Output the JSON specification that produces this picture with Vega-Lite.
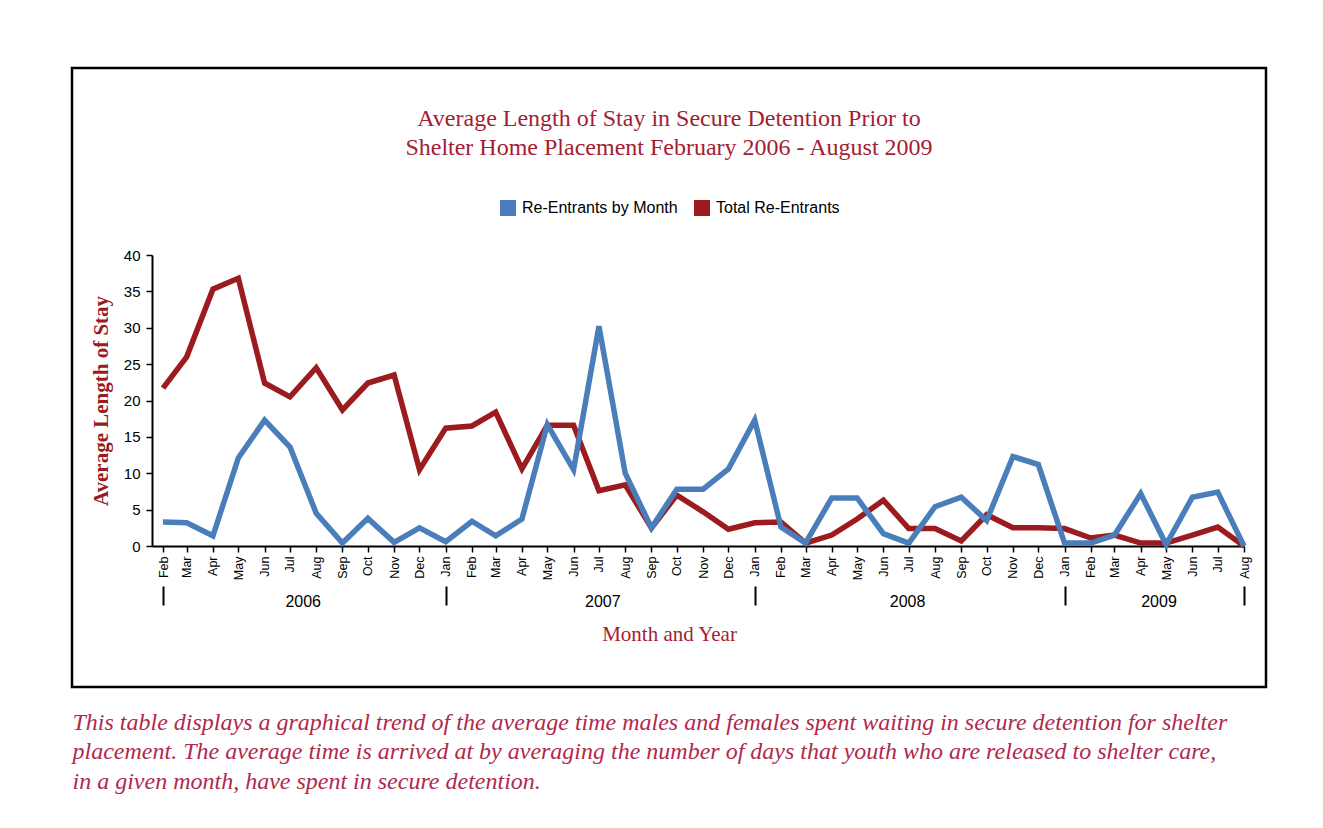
{
  "$schema": "https://vega.github.io/schema/vega-lite/v6.json",
  "autosize": {"type": "none"},
  "width": 1194,
  "height": 619,
  "padding": {"left": 72, "top": 68, "right": 57, "bottom": 141},
  "background": "white",
  "title": {
    "text": ["Average Length of Stay in Secure Detention Prior to", "Shelter Home Placement February 2006 - August 2009"],
    "font": "Liberation Serif",
    "fontSize": 24,
    "fontWeight": "normal",
    "color": "#A31D33",
    "anchor": "middle",
    "frame": "group",
    "orient": "top",
    "offset": -92,
    "lineHeight": 29
  },
  "data": {
    "format": {"parse": {"date": "date:'%Y-%m'"}},
    "values": [
      {"date": "2006-02", "series": "Total Re-Entrants", "value": 21.7},
      {"date": "2006-03", "series": "Total Re-Entrants", "value": 26.0},
      {"date": "2006-04", "series": "Total Re-Entrants", "value": 35.3},
      {"date": "2006-05", "series": "Total Re-Entrants", "value": 36.8},
      {"date": "2006-06", "series": "Total Re-Entrants", "value": 22.4},
      {"date": "2006-07", "series": "Total Re-Entrants", "value": 20.5},
      {"date": "2006-08", "series": "Total Re-Entrants", "value": 24.5},
      {"date": "2006-09", "series": "Total Re-Entrants", "value": 18.7},
      {"date": "2006-10", "series": "Total Re-Entrants", "value": 22.4},
      {"date": "2006-11", "series": "Total Re-Entrants", "value": 23.5},
      {"date": "2006-12", "series": "Total Re-Entrants", "value": 10.5},
      {"date": "2007-01", "series": "Total Re-Entrants", "value": 16.2},
      {"date": "2007-02", "series": "Total Re-Entrants", "value": 16.5},
      {"date": "2007-03", "series": "Total Re-Entrants", "value": 18.4},
      {"date": "2007-04", "series": "Total Re-Entrants", "value": 10.6},
      {"date": "2007-05", "series": "Total Re-Entrants", "value": 16.6},
      {"date": "2007-06", "series": "Total Re-Entrants", "value": 16.6},
      {"date": "2007-07", "series": "Total Re-Entrants", "value": 7.6},
      {"date": "2007-08", "series": "Total Re-Entrants", "value": 8.4},
      {"date": "2007-09", "series": "Total Re-Entrants", "value": 2.5},
      {"date": "2007-10", "series": "Total Re-Entrants", "value": 7.0},
      {"date": "2007-11", "series": "Total Re-Entrants", "value": 4.7},
      {"date": "2007-12", "series": "Total Re-Entrants", "value": 2.3},
      {"date": "2008-01", "series": "Total Re-Entrants", "value": 3.2},
      {"date": "2008-02", "series": "Total Re-Entrants", "value": 3.3},
      {"date": "2008-03", "series": "Total Re-Entrants", "value": 0.4},
      {"date": "2008-04", "series": "Total Re-Entrants", "value": 1.5},
      {"date": "2008-05", "series": "Total Re-Entrants", "value": 3.7},
      {"date": "2008-06", "series": "Total Re-Entrants", "value": 6.3},
      {"date": "2008-07", "series": "Total Re-Entrants", "value": 2.4},
      {"date": "2008-08", "series": "Total Re-Entrants", "value": 2.4},
      {"date": "2008-09", "series": "Total Re-Entrants", "value": 0.7},
      {"date": "2008-10", "series": "Total Re-Entrants", "value": 4.3},
      {"date": "2008-11", "series": "Total Re-Entrants", "value": 2.5},
      {"date": "2008-12", "series": "Total Re-Entrants", "value": 2.5},
      {"date": "2009-01", "series": "Total Re-Entrants", "value": 2.4},
      {"date": "2009-02", "series": "Total Re-Entrants", "value": 1.1},
      {"date": "2009-03", "series": "Total Re-Entrants", "value": 1.5},
      {"date": "2009-04", "series": "Total Re-Entrants", "value": 0.4},
      {"date": "2009-05", "series": "Total Re-Entrants", "value": 0.4},
      {"date": "2009-06", "series": "Total Re-Entrants", "value": 1.5},
      {"date": "2009-07", "series": "Total Re-Entrants", "value": 2.6},
      {"date": "2009-08", "series": "Total Re-Entrants", "value": 0.0},
      {"date": "2006-02", "series": "Re-Entrants by Month", "value": 3.3},
      {"date": "2006-03", "series": "Re-Entrants by Month", "value": 3.2},
      {"date": "2006-04", "series": "Re-Entrants by Month", "value": 1.4},
      {"date": "2006-05", "series": "Re-Entrants by Month", "value": 12.1},
      {"date": "2006-06", "series": "Re-Entrants by Month", "value": 17.3},
      {"date": "2006-07", "series": "Re-Entrants by Month", "value": 13.6},
      {"date": "2006-08", "series": "Re-Entrants by Month", "value": 4.5},
      {"date": "2006-09", "series": "Re-Entrants by Month", "value": 0.4},
      {"date": "2006-10", "series": "Re-Entrants by Month", "value": 3.8},
      {"date": "2006-11", "series": "Re-Entrants by Month", "value": 0.5},
      {"date": "2006-12", "series": "Re-Entrants by Month", "value": 2.5},
      {"date": "2007-01", "series": "Re-Entrants by Month", "value": 0.6},
      {"date": "2007-02", "series": "Re-Entrants by Month", "value": 3.4},
      {"date": "2007-03", "series": "Re-Entrants by Month", "value": 1.4},
      {"date": "2007-04", "series": "Re-Entrants by Month", "value": 3.7},
      {"date": "2007-05", "series": "Re-Entrants by Month", "value": 16.7},
      {"date": "2007-06", "series": "Re-Entrants by Month", "value": 10.5},
      {"date": "2007-07", "series": "Re-Entrants by Month", "value": 30.2},
      {"date": "2007-08", "series": "Re-Entrants by Month", "value": 10.0},
      {"date": "2007-09", "series": "Re-Entrants by Month", "value": 2.5},
      {"date": "2007-10", "series": "Re-Entrants by Month", "value": 7.8},
      {"date": "2007-11", "series": "Re-Entrants by Month", "value": 7.8},
      {"date": "2007-12", "series": "Re-Entrants by Month", "value": 10.6},
      {"date": "2008-01", "series": "Re-Entrants by Month", "value": 17.3},
      {"date": "2008-02", "series": "Re-Entrants by Month", "value": 2.6},
      {"date": "2008-03", "series": "Re-Entrants by Month", "value": 0.4},
      {"date": "2008-04", "series": "Re-Entrants by Month", "value": 6.6},
      {"date": "2008-05", "series": "Re-Entrants by Month", "value": 6.6},
      {"date": "2008-06", "series": "Re-Entrants by Month", "value": 1.7},
      {"date": "2008-07", "series": "Re-Entrants by Month", "value": 0.4},
      {"date": "2008-08", "series": "Re-Entrants by Month", "value": 5.4},
      {"date": "2008-09", "series": "Re-Entrants by Month", "value": 6.7},
      {"date": "2008-10", "series": "Re-Entrants by Month", "value": 3.5},
      {"date": "2008-11", "series": "Re-Entrants by Month", "value": 12.3},
      {"date": "2008-12", "series": "Re-Entrants by Month", "value": 11.2},
      {"date": "2009-01", "series": "Re-Entrants by Month", "value": 0.4},
      {"date": "2009-02", "series": "Re-Entrants by Month", "value": 0.4},
      {"date": "2009-03", "series": "Re-Entrants by Month", "value": 1.5},
      {"date": "2009-04", "series": "Re-Entrants by Month", "value": 7.2},
      {"date": "2009-05", "series": "Re-Entrants by Month", "value": 0.2},
      {"date": "2009-06", "series": "Re-Entrants by Month", "value": 6.7},
      {"date": "2009-07", "series": "Re-Entrants by Month", "value": 7.4},
      {"date": "2009-08", "series": "Re-Entrants by Month", "value": 0.0}
    ]
  },
  "layer": [
    {
      "transform": [{"filter": "datum.series === 'Total Re-Entrants'"}],
      "mark": {"type": "line", "strokeWidth": 5.5, "strokeJoin": "miter"},
      "encoding": {
        "x": {
          "field": "date", "type": "temporal",
          "scale": {"domain": [{"year": 2006, "month": 1, "date": 19}, {"year": 2009, "month": 8, "date": 1}], "range": [80, 1172]},
          "axis": {
            "orient": "bottom", "offset": -141, "format": "%b",
            "tickCount": {"interval": "month", "step": 1},
            "labelAngle": 270, "labelFont": "Liberation Sans, Arial, sans-serif",
            "labelFontSize": 12.5, "labelColor": "#000", "labelPadding": 4,
            "labelOverlap": false, "labelFlush": false, "labelBound": false,
            "tickSize": 6, "tickColor": "#000", "tickWidth": 1.5,
            "domainColor": "#000", "domainWidth": 2, "title": null, "grid": false
          }
        },
        "y": {
          "field": "value", "type": "quantitative",
          "scale": {"domain": [0, 40], "range": [478, 187], "nice": false},
          "axis": {
            "orient": "left", "offset": -80,
            "values": [0, 5, 10, 15, 20, 25, 30, 35, 40],
            "labelFont": "Liberation Sans, Arial, sans-serif",
            "labelFontSize": 15, "labelColor": "#000", "labelPadding": 6,
            "tickSize": 6, "tickColor": "#000", "tickWidth": 1.5,
            "domainColor": "#000", "domainWidth": 2, "grid": false,
            "title": "Average Length of Stay",
            "titleFont": "Liberation Serif", "titleFontSize": 21, "titleFontWeight": "bold",
            "titleColor": "#9B1B23", "titlePadding": 12
          }
        },
        "color": {
          "field": "series", "type": "nominal",
          "scale": {"domain": ["Re-Entrants by Month", "Total Re-Entrants"], "range": ["#4A7EBB", "#9B1B1F"]},
          "legend": {
            "orient": "none", "legendX": 428, "legendY": 132, "direction": "horizontal",
            "title": null, "symbolType": "square", "symbolSize": 256, "symbolStrokeWidth": 0,
            "labelFont": "Liberation Sans, Arial, sans-serif", "labelLimit": 400,
            "labelFontSize": 16, "labelColor": "#000", "columnPadding": 16, "labelOffset": 6, "padding": 0,
            "encode": {"symbols": {"update": {"fill": {"scale": "color", "field": "value"}, "stroke": {"value": "transparent"}}}}
          }
        }
      }
    },
    {
      "transform": [{"filter": "datum.series === 'Re-Entrants by Month'"}],
      "mark": {"type": "line", "strokeWidth": 5.5, "strokeJoin": "miter"},
      "encoding": {
        "x": {
          "field": "date", "type": "temporal",
          "scale": {"domain": [{"year": 2006, "month": 1, "date": 19}, {"year": 2009, "month": 8, "date": 1}], "range": [80, 1172]},
          "axis": null
        },
        "y": {
          "field": "value", "type": "quantitative",
          "scale": {"domain": [0, 40], "range": [478, 187], "nice": false},
          "axis": null
        },
        "color": {
          "field": "series", "type": "nominal",
          "scale": {"domain": ["Re-Entrants by Month", "Total Re-Entrants"], "range": ["#4A7EBB", "#9B1B1F"]},
          "legend": {
            "orient": "none", "legendX": 428, "legendY": 132, "direction": "horizontal",
            "title": null, "symbolType": "square", "symbolSize": 256, "symbolStrokeWidth": 0,
            "labelFont": "Liberation Sans, Arial, sans-serif", "labelLimit": 400,
            "labelFontSize": 16, "labelColor": "#000", "columnPadding": 16, "labelOffset": 6, "padding": 0,
            "encode": {"symbols": {"update": {"fill": {"scale": "color", "field": "value"}, "stroke": {"value": "transparent"}}}}
          }
        }
      }
    },
    {
      "mark": {"type": "point", "opacity": 0},
      "encoding": {
        "x": {
          "field": "date", "type": "temporal",
          "scale": {"domain": [{"year": 2006, "month": 1, "date": 19}, {"year": 2009, "month": 8, "date": 1}], "range": [80, 1172]},
          "axis": {
            "orient": "bottom", "offset": -101,
            "values": [{"year": 2006, "month": 2, "date": 1}, {"year": 2007, "month": 1, "date": 1}, {"year": 2008, "month": 1, "date": 1}, {"year": 2009, "month": 1, "date": 1}, {"year": 2009, "month": 8, "date": 1}],
            "labels": false, "domain": false, "tickSize": 19, "tickWidth": 2, "tickColor": "#000",
            "title": null, "grid": false
          }
        }
      }
    },
    {
      "mark": {"type": "point", "opacity": 0},
      "encoding": {
        "x": {
          "field": "date", "type": "temporal",
          "scale": {"domain": [{"year": 2006, "month": 1, "date": 19}, {"year": 2009, "month": 8, "date": 1}], "range": [80, 1172]},
          "axis": {
            "orient": "bottom", "offset": -101,
            "values": [{"year": 2006, "month": 7, "date": 16}, {"year": 2007, "month": 7, "date": 5}, {"year": 2008, "month": 6, "date": 29}, {"year": 2009, "month": 4, "date": 22}],
            "format": "%Y", "ticks": false, "tickSize": 0, "domain": false, "grid": false,
            "labelPadding": 7, "labelFont": "Liberation Sans, Arial, sans-serif",
            "labelFontSize": 16, "labelColor": "#000", "labelFlush": false, "labelOverlap": false,
            "title": "Month and Year", "titleFont": "Liberation Serif", "titleFontSize": 21,
            "titleFontWeight": "normal", "titleColor": "#A31D33", "titlePadding": 14, "titleX": 597
          }
        }
      }
    },
    {
      "mark": {"type": "point", "opacity": 0},
      "encoding": {
        "x": {
          "field": "date", "type": "temporal",
          "scale": {"domain": [{"year": 2006, "month": 1, "date": 19}, {"year": 2009, "month": 8, "date": 1}], "range": [80, 1172]},
          "axis": {
            "orient": "bottom", "offset": 0,
            "labels": false, "ticks": false, "domain": false, "grid": false,
            "title": [
              "This table displays a graphical trend of the average time males and females spent waiting in secure detention for shelter",
              "placement. The average time is arrived at by averaging the number of days that youth who are released to shelter care,",
              "in a given month, have spent in secure detention."
            ],
            "titleFont": "Liberation Serif", "titleFontStyle": "italic", "titleFontSize": 24,
            "titleFontWeight": "normal", "titleColor": "#B0294B",
            "titleAlign": "left", "titleAnchor": "start", "titleX": 0, "titleY": 23,
            "titleBaseline": "top", "titleLineHeight": 29.5
          }
        }
      }
    }
  ],
  "resolve": {"axis": {"x": "independent", "y": "independent"}},
  "config": {
    "view": {"stroke": "#000", "strokeWidth": 2.5},
    "axis": {"grid": false}
  }
}
